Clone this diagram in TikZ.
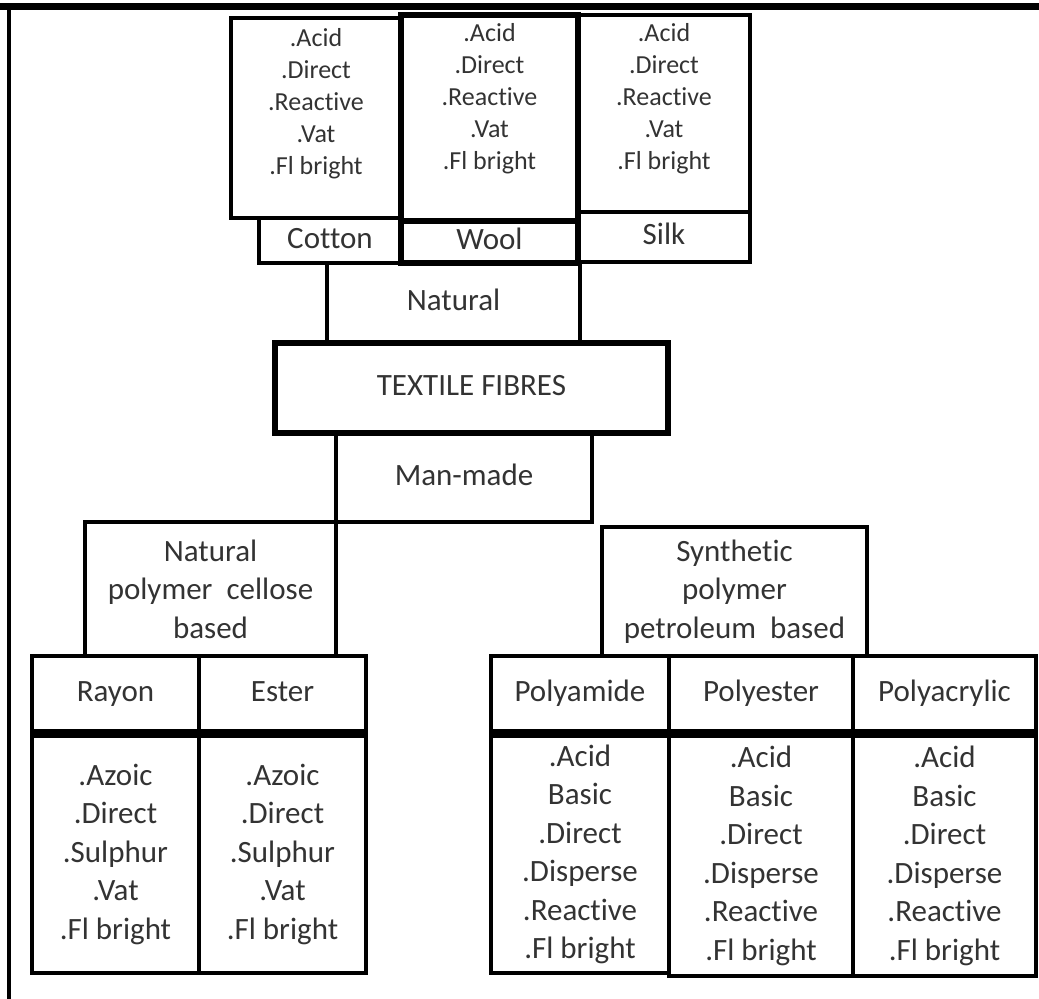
\documentclass[tikz,border=0pt]{standalone}
\usepackage{fontspec}
\setmainfont[Ligatures=NoCommon]{Carlito}
\usetikzlibrary{positioning}
\newcommand\dyesize{\fontsize{13pt}{16pt}\selectfont}
\newcommand\mainsize{\fontsize{15.5pt}{19.25pt}\selectfont}
\tikzset{
every path/.style={line width=2.25pt}
, every node/.style={font=\mainsize,text=black!80}
, fibrebox/.style={draw,inner sep=0pt,align=center}
, fibrelabel/.style={fibrebox,text height=1.8ex,text depth=0.15ex}
, heavybox/.style={fibrebox,line width=3.2pt}
, dyelist/.style={align=center,font=\dyesize}
, widebody/.style={fibrebox,minimum height=120.25pt}}

\begin{document}
\begin{tikzpicture}[x=0.5pt,y=-0.5pt]
\useasboundingbox (0,0) rectangle (1039,999);
\draw [line width=3.5pt] (0,7) -- (1039,7);
\draw [line width=2pt] (9,7) -- (9,999);
% natural fibres
\node[fibrebox,minimum width=85pt,minimum height=100pt] (cotdye) at (316,118) {};
\node[dyelist] (cotlist) at (316,104) {.Acid\\.Direct\\.Reactive\\.Vat\\.Fl bright};
\node[fibrebox,minimum width=86pt,minimum height=98.5pt] (silkdye) at (664,113.5) {};
\node[dyelist] (silklist) at (664,99) {.Acid\\.Direct\\.Reactive\\.Vat\\.Fl bright};
\node[heavybox,minimum width=88.5pt,minimum height=103pt] (wooldye) at (489.5,118) {};
\node[dyelist] (woollist) at (489.5,99) {.Acid\\.Direct\\.Reactive\\.Vat\\.Fl bright};
\node[fibrelabel,minimum width=71pt,minimum height=22.5pt] (cotton) at (330,240.5) {Cotton};
\node[fibrelabel,minimum width=86pt,minimum height=25pt] (silk) at (664,237) {Silk};
\node[fibrelabel,line width=3.2pt,minimum width=88.5pt,minimum height=21pt] (wool) at (489.5,242) {Wool};
\node[fibrelabel,minimum width=126.5pt,minimum height=40pt] (natural) at (453.5,303) {Natural};
\node[fibrelabel,line width=2.6pt,minimum width=196.5pt,minimum height=45pt] (fibres) at (471.5,388) {TEXTILE FIBRES};
% man-made fibres
\node[fibrelabel,minimum width=128pt,minimum height=44.5pt] (manmade) at (464,477.5) {Man-made};
\node[fibrebox,minimum width=125.5pt,minimum height=67pt] (cellbased) at (210.5,589) {Natural\\polymer~ cellose\\based};
\node[fibrebox,minimum width=132.5pt,minimum height=64.5pt] (petbased) at (734.5,591.5) {Synthetic\\polymer\\petroleum~ based};
\node[fibrelabel,minimum width=83.5pt,minimum height=37.5pt] (rayon) at (115.5,693.5) {Rayon};
\node[fibrelabel,minimum width=83.5pt,minimum height=37.5pt] (ester) at (282.5,693.5) {Ester};
\node[fibrebox,minimum width=83.5pt,minimum height=118.75pt,below=0pt of rayon] (rayondye) {.Azoic\\.Direct\\.Sulphur\\.Vat\\.Fl bright};
\node[fibrebox,minimum width=83.5pt,minimum height=118.75pt,below=0pt of ester] (esterdye) {.Azoic\\.Direct\\.Sulphur\\.Vat\\.Fl bright};
\node[fibrelabel,minimum width=89pt,minimum height=37.5pt] (amide) at (580,693.5) {Polyamide};
\node[fibrelabel,minimum width=92pt,minimum height=37.5pt] (ester2) at (761,693.5) {Polyester};
\node[fibrelabel,minimum width=91.5pt,minimum height=37.5pt] (acrylic) at (944.5,693.5) {Polyacrylic};
\node[fibrebox,minimum width=89pt,minimum height=118.75pt,below=0pt of amide] (amidedye) {.Acid\\Basic\\.Direct\\.Disperse\\.Reactive\\.Fl bright};
\node[widebody,minimum width=92pt,below=0pt of ester2] (ester2dye) {.Acid\\Basic\\.Direct\\.Disperse\\.Reactive\\.Fl bright};
\node[widebody,minimum width=91.5pt,below=0pt of acrylic] (acrylicdye) {.Acid\\Basic\\.Direct\\.Disperse\\.Reactive\\.Fl bright};
\end{tikzpicture}
\end{document}
